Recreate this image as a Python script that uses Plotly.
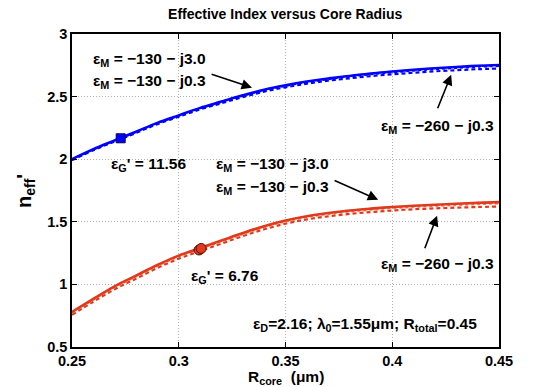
import plotly.graph_objects as go

# ---- data ----
r_core = [0.25, 0.26, 0.27, 0.28, 0.29, 0.30, 0.31, 0.32, 0.33, 0.34, 0.35,
          0.36, 0.37, 0.38, 0.39, 0.40, 0.41, 0.42, 0.43, 0.44, 0.45]

blue_130_j30 = [2.00, 2.08, 2.15, 2.22, 2.29, 2.35, 2.41, 2.46, 2.51, 2.555, 2.59,
                2.62, 2.645, 2.665, 2.685, 2.70, 2.715, 2.727, 2.737, 2.746, 2.752]
blue_130_j03 = [1.997, 2.077, 2.147, 2.217, 2.287, 2.347, 2.406, 2.456, 2.506, 2.55, 2.585,
                2.614, 2.639, 2.659, 2.678, 2.693, 2.707, 2.719, 2.729, 2.738, 2.744]
blue_260_j03 = [1.992, 2.072, 2.141, 2.21, 2.28, 2.339, 2.398, 2.447, 2.496, 2.54, 2.574,
                2.603, 2.627, 2.646, 2.664, 2.678, 2.691, 2.702, 2.711, 2.719, 2.724]

red_130_j30 = [0.78, 0.885, 0.985, 1.07, 1.155, 1.23, 1.29, 1.35, 1.41, 1.465, 1.51,
               1.545, 1.57, 1.59, 1.605, 1.618, 1.628, 1.636, 1.644, 1.651, 1.657]
red_130_j03 = [0.772, 0.877, 0.977, 1.062, 1.147, 1.222, 1.282, 1.342, 1.401, 1.456, 1.501,
               1.536, 1.561, 1.581, 1.596, 1.608, 1.618, 1.626, 1.633, 1.64, 1.646]
red_260_j03 = [0.757, 0.862, 0.961, 1.046, 1.131, 1.206, 1.266, 1.326, 1.386, 1.44, 1.485,
               1.519, 1.544, 1.563, 1.578, 1.59, 1.6, 1.607, 1.613, 1.618, 1.622]

marker_blue_x = [0.2728]
marker_blue_y = [2.167]
marker_red_x = [0.3095, 0.3105]
marker_red_y = [1.275, 1.287]

x_ticks = [0.25, 0.3, 0.35, 0.4, 0.45]
x_tick_labels = ["0.25", "0.3", "0.35", "0.4", "0.45"]
y_ticks = [0.5, 1, 1.5, 2, 2.5, 3]
y_tick_labels = ["0.5", "1", "1.5", "2", "2.5", "3"]

BLUE = "#0000ff"
RED = "#e0391c"
FONT = "Liberation Sans"

fig = go.Figure()

def add_line(y, color, dash, width):
    fig.add_trace(go.Scatter(x=r_core, y=y, mode="lines",
                             line=dict(color=color, dash=dash, width=width, shape="spline"),
                             showlegend=False, hoverinfo="skip"))

add_line(blue_260_j03, BLUE, "4px,3px", 2.2)
add_line(blue_130_j03, BLUE, "dot", 2.0)
add_line(blue_130_j30, BLUE, "solid", 2.6)
add_line(red_260_j03, RED, "4px,3px", 2.2)
add_line(red_130_j03, "#f08060", "dot", 2.0)
add_line(red_130_j30, RED, "solid", 2.6)

fig.add_trace(go.Scatter(x=marker_blue_x, y=marker_blue_y, mode="markers",
                         marker=dict(symbol="square", size=9, color=BLUE,
                                     line=dict(color="#000060", width=1)),
                         showlegend=False, hoverinfo="skip"))
fig.add_trace(go.Scatter(x=marker_red_x, y=marker_red_y, mode="markers",
                         marker=dict(symbol="circle", size=10, color=RED,
                                     line=dict(color="#501000", width=1)),
                         showlegend=False, hoverinfo="skip"))

tf = dict(family=FONT, size=15.5, color="black", weight="bold")

def label(x, y, text):
    fig.add_annotation(x=x, y=y, text=text, showarrow=False, xanchor="left",
                       yanchor="middle", font=tf, borderpad=0)

def arrow(x0, y0, x1, y1):
    fig.add_annotation(x=x1, y=y1, ax=x0, ay=y0, axref="x", ayref="y",
                       xref="x", yref="y", text="", showarrow=True,
                       arrowhead=2, arrowsize=1.3, arrowwidth=1.6, arrowcolor="black")

eM = "ε<sub>M</sub>"
label(0.2594, 2.795, eM + " = −130 − j3.0")
label(0.2594, 2.619, eM + " = −130 − j0.3")
arrow(0.3147, 2.683, 0.3343, 2.571)
label(0.3943, 2.26, eM + " = −260 − j0.3")
arrow(0.421, 2.395, 0.4276, 2.675)
label(0.2678, 1.956, "ε<sub>G</sub>' = 11.56")
label(0.317, 1.956, eM + " = −130 − j3.0")
label(0.317, 1.773, eM + " = −130 − j0.3")
arrow(0.3723, 1.836, 0.3934, 1.676)
label(0.3943, 1.157, eM + " = −260 − j0.3")
arrow(0.415, 1.277, 0.421, 1.549)
label(0.3053, 1.06, "ε<sub>G</sub>' = 6.76")
label(0.3344, 0.678, "ε<sub>D</sub>=2.16; λ<sub>0</sub>=1.55μm; R<sub>total</sub>=0.45")

# axis labels
fig.add_annotation(xref="paper", yref="paper", x=0.5, y=-0.061, yanchor="top",
                   text="R<sub>core</sub>  (μm)", showarrow=False,
                   font=dict(family=FONT, size=15.5, color="black", weight="bold"))
fig.add_annotation(xref="paper", yref="paper", x=-0.075, y=0.5, xanchor="right",
                   text="n<sub>eff</sub>'", showarrow=False, textangle=-90,
                   font=dict(family=FONT, size=20, color="black", weight="bold"))

axis_common = dict(showgrid=True, gridcolor="#b0b0b0", griddash="1px,2px", gridwidth=1,
                   showline=True, linecolor="black", linewidth=1.5, mirror="ticks",
                   ticks="inside", ticklen=5, tickwidth=1.2, tickcolor="black",
                   zeroline=False,
                   tickfont=dict(family=FONT, size=14.5, color="black", weight="bold"))

fig.update_xaxes(range=[0.25, 0.45], tickvals=x_ticks, ticktext=x_tick_labels, **axis_common)
fig.update_yaxes(range=[0.5, 3], tickvals=y_ticks, ticktext=y_tick_labels, **axis_common)

fig.update_layout(
    width=536, height=387,
    margin=dict(l=72, r=37, t=34, b=40),
    paper_bgcolor="white", plot_bgcolor="white",
    title=dict(text="Effective Index versus Core Radius", x=0.532, xanchor="center",
               y=0.963, yanchor="middle",
               font=dict(family=FONT, size=14, color="black", weight="bold")),
)

fig.write_html("out.html", config={"displayModeBar": False},
               post_script="document.body.style.margin='0';")
